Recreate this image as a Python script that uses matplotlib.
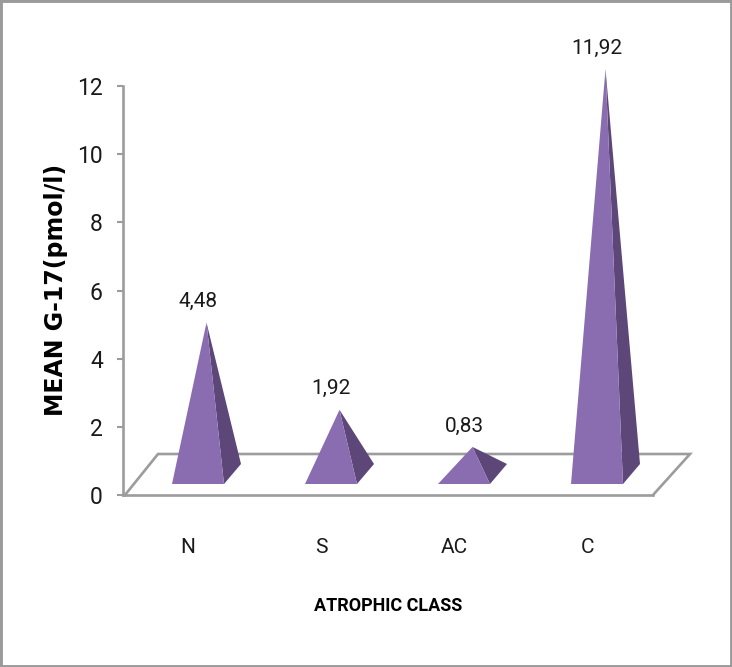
import numpy as np
import matplotlib
matplotlib.use("Agg")
import matplotlib.pyplot as plt
from matplotlib.patches import Polygon, Rectangle

categories = ["N", "S", "AC", "C"]
values = [4.48, 1.92, 0.83, 11.92]
labels = ["4,48", "1,92", "0,83", "11,92"]
yticks = [0, 2, 4, 6, 8, 10, 12]

W, H = 732, 667
X0, Y0, X1, Y12 = 123, 495, 690, 86
STEP = 133.0              # px per category
CX0 = 198.0               # px centre of first base
PXY = (Y0 - Y12) / 12.0   # px per value unit
FONT = ["Roboto", "DejaVu Sans"]
BOLD = ["DejaVu Sans"]

fig = plt.figure(figsize=(W / 100, H / 100), dpi=100, facecolor="white")
fig.add_artist(Rectangle((0, 0), 1, 1, transform=fig.transFigure, fill=False,
                         edgecolor="#9a9a9a", linewidth=3.5))
ax = fig.add_axes([X0 / W, 1 - Y0 / H, (X1 - X0) / W, (Y0 - Y12) / H])
ax.patch.set_alpha(0)
ax.set_xlim((X0 - CX0) / STEP, (X1 - CX0) / STEP)
ax.set_ylim(0, 12)

pos = np.arange(len(categories))
hw = 26 / STEP            # half base width
apex_dx = 8.5 / STEP
dep_x = 17 / STEP
base_y = 11 / PXY
back_y = 31 / PXY
apex_extra = 0.58
floor_back = 41 / PXY
floor_l = (125 - CX0) / STEP
floor_bl = (158 - CX0) / STEP
floor_br = (690 - CX0) / STEP
floor_r = (653 - CX0) / STEP

grey = "#9c9c9c"
ax.plot([floor_l, floor_bl, floor_br, floor_r],
        [0, floor_back, floor_back, 0], color=grey, lw=1.9, clip_on=False,
        solid_joinstyle="miter", zorder=1)

for x, v, lab in zip(pos, values, labels):
    top = v + apex_extra
    ax.add_patch(Polygon([(x + hw, base_y), (x + hw + dep_x, back_y), (x + apex_dx, top)],
                         closed=True, facecolor="#5d4678", edgecolor="none",
                         clip_on=False, zorder=3))
    ax.add_patch(Polygon([(x - hw, base_y), (x + hw, base_y), (x + apex_dx, top)],
                         closed=True, facecolor="#8a6db0", edgecolor="none",
                         clip_on=False, zorder=4))
    ax.text(x, top + 21 / PXY, lab, ha="center", va="center", fontsize=15,
            family=FONT, color="#1a1a1a", clip_on=False)

for s in ("top", "right"):
    ax.spines[s].set_visible(False)
for s in ("left", "bottom"):
    ax.spines[s].set_color(grey)
    ax.spines[s].set_linewidth(1.9)
ax.spines["bottom"].set_bounds(ax.get_xlim()[0], floor_r)

ax.set_yticks(yticks)
ax.set_yticklabels([str(t) for t in yticks], family=FONT, fontsize=16.5, color="#1a1a1a")
ax.tick_params(axis="y", length=4.5, width=1.5, color=grey, pad=10)

ax.set_xticks(pos - 10 / STEP)
ax.set_xticklabels(categories, family=FONT, fontsize=15, color="#1a1a1a")
ax.tick_params(axis="x", length=0, pad=31)

fig.text(388 / W, 1 - 606 / H, "ATROPHIC CLASS", ha="center", va="center",
         family=FONT, fontsize=13, fontweight="bold", color="black")
fig.text(56 / W, 1 - 290 / H, "MEAN G-17(pmol/l)", rotation=90, ha="center", va="center",
         family=BOLD, fontsize=17, fontweight="bold", color="black")

fig.savefig("out.png", dpi=100)
